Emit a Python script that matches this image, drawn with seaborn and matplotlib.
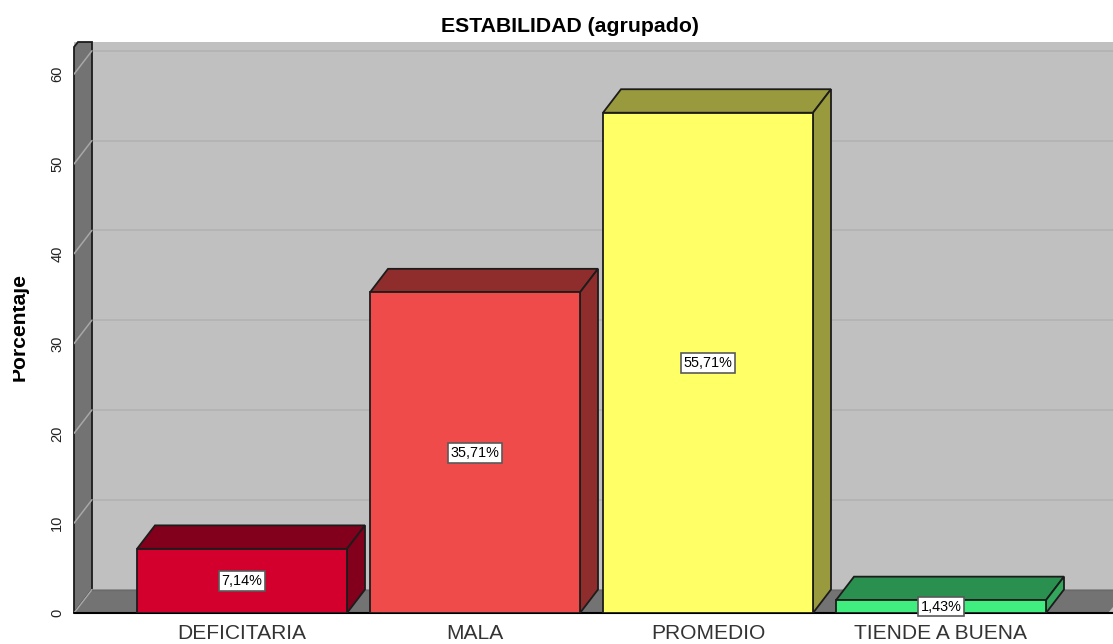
import matplotlib
matplotlib.use("Agg")
import matplotlib.pyplot as plt
from matplotlib.patches import Polygon
from matplotlib.transforms import Bbox
import pandas as pd
import seaborn as sns

categories = ["DEFICITARIA", "MALA", "PROMEDIO", "TIENDE A BUENA"]
values = [7.14, 35.71, 55.71, 1.43]
labels = ["7,14%", "35,71%", "55,71%", "1,43%"]
front_colors = ["#d3002d", "#ef4b4b", "#ffff66", "#3fee7f"]
top_colors = ["#82001c", "#8f2d2d", "#99993d", "#2a9050"]
side_colors = ["#82001c", "#8f2d2d", "#99993d", "#33a85c"]
y_ticks = [0, 10, 20, 30, 40, 50, 60]

W, H = 1113, 644
sns.set_theme(style="white", rc={"font.family": ["Liberation Sans", "DejaVu Sans"]})
fig = plt.figure(figsize=(W / 100, H / 100), dpi=100, facecolor="white")
L, R, T, B = 74, 1113, 42, 613
PY = 8.98
ax = fig.add_axes([L / W, 1 - B / H, (R - L) / W, (B - T) / H])
ax.set_facecolor("#c0c0c0")

EDGE = "#1c1c1c"
df = pd.DataFrame({"cat": categories, "val": values})
sns.barplot(data=df, x="cat", y="val", hue="cat", palette=front_colors, legend=False,
            width=210 / 233, saturation=1, edgecolor=EDGE, linewidth=1.3, ax=ax, zorder=5)
ax.set_xlim((L - 242) / 233, (R - 242) / 233)
ax.set_ylim(0, (B - T) / PY)

# one pixel in data units, and the depth of the 3D projection
px = 1 / 233
py = 1 / PY
dx, dy = 18 * px, 23.5 * py
x0, x1 = ax.get_xlim()
y1 = ax.get_ylim()[1]

wall = "#737373"
edge = dict(edgecolor=EDGE, linewidth=1.3)
# left wall and floor
ax.add_patch(Polygon([(x0, 0), (x0, y1 - 5 * py), (x0 + 4 * px, y1), (x0 + dx, y1), (x0 + dx, dy)],
                     closed=True, facecolor=wall, zorder=2, clip_on=False, **edge))
ax.add_patch(Polygon([(x0, 0), (x0 + dx, dy), (x1, dy), (x1, 6 * py), (x1 - 5 * px, 0)],
                     closed=True, facecolor=wall, edgecolor="none", zorder=2))
ax.plot([x0 + dx, x1], [dy, dy], color="#6a6a6a", lw=1, zorder=2.5)
# gridlines on back wall and left wall
for t in y_ticks:
    if t > 0:
        ax.plot([x0 + dx, x1], [t + dy, t + dy], color="#b3b3b3", lw=1.3, zorder=1.5)
    ax.plot([x0, x0 + dx], [t, t + dy], color="#a8a8a8", lw=1.1, zorder=2.2)
ax.plot([x0, x1], [0, 0], color="black", lw=1.5, zorder=4, clip_on=False)

bars = [p for p in ax.patches if p.get_zorder() == 5]
for i, bar in enumerate(bars):
    xl, w, h = bar.get_x(), bar.get_width(), bar.get_height()
    xr = xl + w
    ax.add_patch(Polygon([(xl, h), (xl + dx, h + dy), (xr + dx, h + dy), (xr, h)],
                         closed=True, facecolor=top_colors[i], zorder=4.5, **edge))
    ax.add_patch(Polygon([(xr, 0), (xr + dx, dy), (xr + dx, h + dy), (xr, h)],
                         closed=True, facecolor=side_colors[i], zorder=4.5, **edge))
    ax.text(xl + w / 2, h / 2, labels[i], ha="center", va="center", fontsize=10.4,
            color="black", zorder=7, clip_on=False,
            bbox=dict(boxstyle="square,pad=0.2", facecolor="white", edgecolor="#5a5a5a", linewidth=1.2))

for s in ax.spines.values():
    s.set_visible(False)
ax.set_yticks(y_ticks)
ax.set_yticklabels([str(t) for t in y_ticks], rotation=90, va="center", fontsize=10.5, color="#222222")
ax.tick_params(axis="y", length=0, pad=7)
ax.tick_params(axis="x", length=0, pad=8)
ax.set_xticks(range(len(categories)))
ax.set_xticklabels(categories, fontsize=15.1, color="#333333")
ax.set_xlabel("")
ax.set_ylabel("")
# the reference cuts off the upper part of the axis title at its left side
yl = fig.text(25 / W, 1 - 327 / H, "Porcentaje", rotation=90, ha="center", va="baseline",
              rotation_mode="anchor", fontsize=15.2, fontweight="bold", color="black")
yl.set_clip_box(Bbox([[13, 0], [40, H]]))
yl.set_clip_on(True)
fig.text(570 / W, 1 - 26 / H, "ESTABILIDAD (agrupado)", ha="center", va="center",
         fontsize=15.3, fontweight="bold", color="black")
fig.savefig("out.png", dpi=100)
